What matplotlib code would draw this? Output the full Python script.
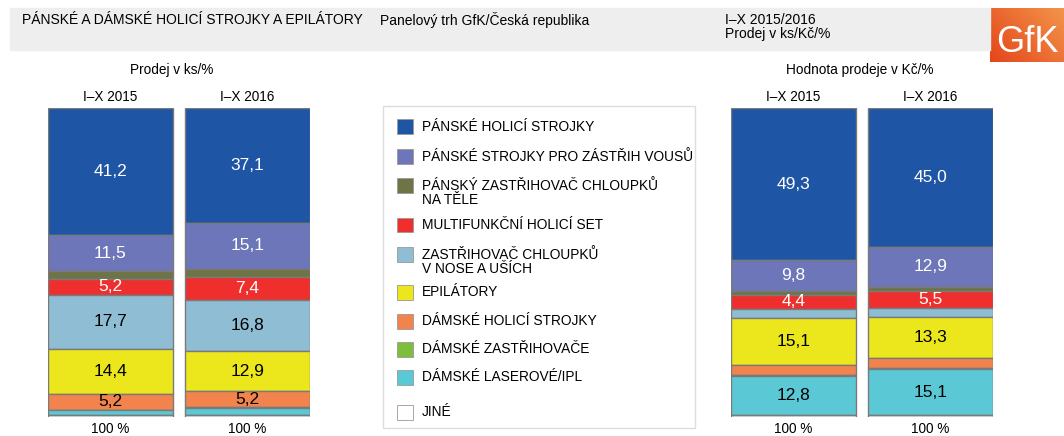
import matplotlib.pyplot as plt
import matplotlib.patches as mpatches
from matplotlib.colors import LinearSegmentedColormap
import numpy as np

plt.rcParams['font.family'] = ['Liberation Sans', 'DejaVu Sans']

W, H = 1064, 436

categories = ['PÁNSKÉ HOLICÍ STROJKY', 'PÁNSKÉ STROJKY PRO ZÁSTŘIH VOUSŮ',
              'PÁNSKÝ ZASTŘIHOVAČ CHLOUPKŮ\nNA TĚLE', 'MULTIFUNKČNÍ HOLICÍ SET',
              'ZASTŘIHOVAČ CHLOUPKŮ\nV NOSE A UŠÍCH', 'EPILÁTORY',
              'DÁMSKÉ HOLICÍ STROJKY', 'DÁMSKÉ ZASTŘIHOVAČE',
              'DÁMSKÉ LASEROVÉ/IPL', 'JINÉ']
colors = ['#1F55A5', '#6C76B8', '#6E7445', '#EE2F2E', '#8FBDD3',
          '#ECE71C', '#F2834D', '#7DBF3D', '#5BC8D6', '#FFFFFF']
periods = ['I–X 2015', 'I–X 2016']

# units (ks) share, top to bottom
units_2015 = [41.2, 11.5, 2.5, 5.2, 17.7, 14.4, 5.2, 0.1, 1.6, 0.6]
units_2016 = [37.1, 15.1, 2.4, 7.4, 16.8, 12.9, 5.2, 0.2, 2.3, 0.6]
# value (Kč) share, top to bottom
value_2015 = [49.3, 9.8, 1.4, 4.4, 3.2, 15.1, 3.1, 0.3, 12.8, 0.6]
value_2016 = [45.0, 12.9, 1.2, 5.5, 3.1, 13.3, 3.2, 0.2, 15.1, 0.5]

# which segments carry a label, and label colour
shown = [True, True, False, True, True, True, True, False, True, False]
label_color = ['white', 'white', 'black', 'white', 'black', 'black', 'black',
               'black', 'black', 'black']


def px(x, y, w, h):
    return [x / W, 1 - (y + h) / H, w / W, h / H]


def stacked(ax, series):
    for i, vals in enumerate(series):
        top = 100.0
        for j, v in enumerate(vals):
            ax.bar(i, v, bottom=top - v, width=0.912, color=colors[j],
                   edgecolor='#7a7a7a', linewidth=1.0)
            if shown[j] and v >= 4:
                ax.text(i, top - v / 2, f'{v:.1f}'.replace('.', ','),
                        ha='center', va='center', fontsize=12.5,
                        color=label_color[j])
            top -= v
    ax.set_xlim(-0.456, 1.456)
    ax.set_ylim(0, 100)
    ax.axis('off')


fig = plt.figure(figsize=(W / 100, H / 100), dpi=100, facecolor='white')

# header band
fig.patches.append(mpatches.Rectangle((10 / W, 1 - 50 / H), 980 / W, 42 / H,
                                      transform=fig.transFigure,
                                      color='#EEEEEE', zorder=0))
fig.text(22 / W, 1 - 20 / H, 'PÁNSKÉ A DÁMSKÉ HOLICÍ STROJKY A EPILÁTORY',
         fontsize=10, va='center')
fig.text(380 / W, 1 - 20 / H, 'Panelový trh GfK/Česká republika',
         fontsize=10, va='center')
fig.text(725 / W, 1 - 20 / H, 'I–X 2015/2016', fontsize=10, va='center')
fig.text(725 / W, 1 - 34 / H, 'Prodej v ks/Kč/%', fontsize=10, va='center')

# GfK logo
lax = fig.add_axes(px(990, 8, 74, 54))
gx, gy = np.meshgrid(np.linspace(0, 1, 60), np.linspace(0, 1, 40))
grad = np.clip(0.6 * gx + 0.4 * (1 - gy), 0, 1)
lax.imshow(grad, cmap=LinearSegmentedColormap.from_list('gfk', ['#E4461A', '#F3944A']),
           aspect='auto', extent=(0, 1, 0, 1))
lax.text(0.08, 0.36, 'GfK', color='white', fontsize=26, ha='left', va='center')
lax.set_xlim(0, 1)
lax.set_ylim(0, 1)
lax.axis('off')

# section titles
fig.text(172 / W, 1 - 70 / H, 'Prodej v ks/%', fontsize=9.8, ha='center', va='center')
fig.text(860 / W, 1 - 70 / H, 'Hodnota prodeje v Kč/%', fontsize=9.8,
         ha='center', va='center')

# bars
axl = fig.add_axes(px(48, 108, 262, 309))
stacked(axl, [units_2015, units_2016])
axr = fig.add_axes(px(731, 108, 262, 309))
stacked(axr, [value_2015, value_2016])

for x0 in [48, 731]:
    for i, p in enumerate(periods):
        cx = x0 + 62.5 + 137 * i
        fig.text(cx / W, 1 - 97 / H, p, fontsize=9.8, ha='center', va='center')
        fig.text(cx / W, 1 - 435.5 / H, '100 %', fontsize=9.8, ha='center',
                 va='bottom')

# legend
fig.patches.append(mpatches.Rectangle((383 / W, 1 - 428 / H), 312 / W, 322 / H,
                                      transform=fig.transFigure, fill=False,
                                      edgecolor='#DDDDDD', linewidth=1))
leg_y = [127, 157, 193, 225, 262, 292, 321, 349, 377, 412]
for c, lab, y in zip(colors, categories, leg_y):
    lines = lab.split('\n')
    ysw = y - 7.5 * len(lines)
    fig.patches.append(mpatches.Rectangle((397 / W, 1 - (ysw + 15) / H),
                                          16 / W, 15 / H,
                                          transform=fig.transFigure,
                                          facecolor=c, edgecolor='#999999',
                                          linewidth=0.6))
    for k, line in enumerate(lines):
        ly = y + 14 * (k - (len(lines) - 1) / 2)
        fig.text(422 / W, 1 - ly / H, line, fontsize=9.9, va='center')

fig.savefig('out.png', dpi=100, facecolor='white')
